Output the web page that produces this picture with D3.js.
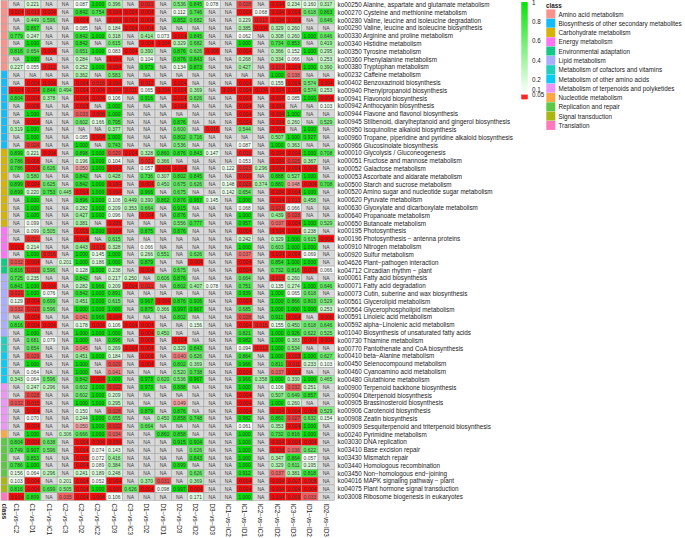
<!DOCTYPE html>
<html><head><meta charset="utf-8">
<script src="https://cdn.jsdelivr.net/npm/d3@7"></script>
<style>body{margin:0;background:#fff}svg{display:block}text{font-family:"Liberation Sans",Arial,sans-serif}</style>
</head><body>
<svg id="c" width="685" height="538"></svg>
<script>
const N = null, R = 0.004;
const columns = ["C1−vs−C2","C1−vs−D1","C1−vs−IC1","C2−vs−C3","C2−vs−D2","C2−vs−IC2","C3−vs−D3","C3−vs−IC3","D1−vs−D2","D1−vs−ID1","D2−vs−D3","D2−vs−ID2","D3−vs−ID3","IC1−vs−IC2","IC1−vs−ID1","IC2−vs−IC3","IC2−vs−ID2","IC3−vs−ID3","ID1−vs−ID2","ID2−vs−ID3"];
const pathways = ["ko00250 Alanine, aspartate and glutamate metabolism","ko00270 Cysteine and methionine metabolism","ko00280 Valine, leucine and isoleucine degradation","ko00290 Valine, leucine and isoleucine biosynthesis","ko00330 Arginine and proline metabolism","ko00340 Histidine metabolism","ko00350 Tyrosine metabolism","ko00360 Phenylalanine metabolism","ko00380 Tryptophan metabolism","ko00232 Caffeine metabolism","ko00402 Benzoxazinoid biosynthesis","ko00940 Phenylpropanoid biosynthesis","ko00941 Flavonoid biosynthesis","ko00942 Anthocyanin biosynthesis","ko00944 Flavone and flavonol biosynthesis","ko00945 Stilbenoid, diarylheptanoid and gingerol biosynthesis","ko00950 Isoquinoline alkaloid biosynthesis","ko00960 Tropane, piperidine and pyridine alkaloid biosynthesis","ko00966 Glucosinolate biosynthesis","ko00010 Glycolysis / Gluconeogenesis","ko00051 Fructose and mannose metabolism","ko00052 Galactose metabolism","ko00053 Ascorbate and aldarate metabolism","ko00500 Starch and sucrose metabolism","ko00520 Amino sugar and nucleotide sugar metabolism","ko00620 Pyruvate metabolism","ko00630 Glyoxylate and dicarboxylate metabolism","ko00640 Propanoate metabolism","ko00650 Butanoate metabolism","ko00195 Photosynthesis","ko00196 Photosynthesis − antenna proteins","ko00910 Nitrogen metabolism","ko00920 Sulfur metabolism","ko04626 Plant−pathogen interaction","ko04712 Circadian rhythm − plant","ko00061 Fatty acid biosynthesis","ko00071 Fatty acid degradation","ko00073 Cutin, suberine and wax biosynthesis","ko00561 Glycerolipid metabolism","ko00564 Glycerophospholipid metabolism","ko00591 Linoleic acid metabolism","ko00592 alpha−Linolenic acid metabolism","ko01040 Biosynthesis of unsaturated fatty acids","ko00730 Thiamine metabolism","ko00770 Pantothenate and CoA biosynthesis","ko00410 beta−Alanine metabolism","ko00450 Selenocompound metabolism","ko00460 Cyanoamino acid metabolism","ko00480 Glutathione metabolism","ko00900 Terpenoid backbone biosynthesis","ko00904 Diterpenoid biosynthesis","ko00905 Brassinosteroid biosynthesis","ko00906 Carotenoid biosynthesis","ko00908 Zeatin biosynthesis","ko00909 Sesquiterpenoid and triterpenoid biosynthesis","ko00240 Pyrimidine metabolism","ko03030 DNA replication","ko03410 Base excision repair","ko03430 Mismatch repair","ko03440 Homologous recombination","ko03450 Non−homologous end−joining","ko04016 MAPK signaling pathway − plant","ko04075 Plant hormone signal transduction","ko03008 Ribosome biogenesis in eukaryotes"];
const classNames = ["Amino acid metabolism","Biosynthesis of other secondary metabolites","Carbohydrate metabolism","Energy metabolism","Environmental adaptation","Lipid metabolism","Metabolism of cofactors and vitamins","Metabolism of other amino acids","Metabolism of terpenoids and polyketides","Nucleotide metabolism","Replication and repair","Signal transduction","Translation"];
const classColors = ["#F8928B","#12BCF8","#D6B202","#FC74F4","#12CA86","#AAAEFF","#20D0BC","#08CBF6","#EC96FA","#FCA843","#5EC845","#AAB712","#FF78BB"];
const classCounts = [9,10,10,4,2,8,2,4,6,1,5,2,1];
const pvalues = [
[N,0.221,N,N,0.087,1,0.396,N,0.021,N,0.536,0.845,0.078,N,0.028,N,R,0.234,0.160,0.317],
[R,0.013,R,N,0.842,0.754,R,R,R,N,0.112,0.746,N,N,R,0.068,R,R,0.618,0.863],
[N,0.449,0.596,N,R,N,R,R,R,N,0.852,0.682,N,N,0.229,0.017,R,R,N,0.646],
[N,0.867,N,N,0.085,N,0.184,R,R,N,N,N,N,N,0.385,R,0.329,0.260,N,N],
[0.779,0.247,N,N,0.842,1,0.318,N,0.414,0.073,R,0.845,N,N,0.062,N,0.308,0.260,1,0.646],
[N,1,N,N,0.842,N,0.615,N,R,R,0.329,0.682,N,N,1,N,0.734,0.853,N,0.419],
[0.816,0.654,R,N,0.651,1,0.083,R,0.390,N,0.876,0.626,0.006,N,R,N,0.366,0.152,1,0.295],
[N,1,N,N,0.284,N,R,N,0.104,N,0.876,0.843,N,N,0.268,N,0.334,0.066,N,0.253],
[0.227,0.055,0.012,N,0.252,1,R,N,0.973,N,0.134,0.873,N,N,0.427,N,0.019,R,1,0.390],
[N,N,N,N,0.362,N,0.583,N,N,N,N,N,N,N,N,N,1,0.038,N,N],
[N,R,R,N,R,0.018,R,N,0.012,N,R,N,N,N,R,N,0.155,R,0.574,R],
[R,R,0.844,0.494,R,R,R,0.011,0.065,R,R,0.369,N,R,R,R,R,R,0.574,0.253],
[0.804,R,0.378,N,R,R,0.106,N,0.916,N,R,0.626,N,N,R,N,R,0.085,1,R],
[N,0.006,N,N,0.005,N,1,N,N,N,R,N,N,N,R,N,R,N,N,0.103],
[N,1,N,N,0.033,0.008,1,N,N,N,N,N,N,N,R,N,R,1,N,N],
[N,R,N,N,0.602,0.166,0.795,N,N,N,0.876,N,N,N,0.004,N,R,0.260,N,0.529],
[0.319,1,N,N,N,N,0.377,N,N,N,0.600,N,0.016,N,0.544,N,R,N,1,N],
[N,1,N,N,0.085,R,1,N,N,N,0.802,0.716,N,N,N,N,0.507,1,0.927,N],
[N,0.024,N,N,1,N,0.743,N,N,N,0.536,N,N,N,0.087,N,1,0.363,N,N],
[0.899,0.221,R,N,0.898,1,0.029,R,0.328,0.860,0.876,0.843,0.147,N,0.016,N,R,R,1,0.708],
[0.786,0.006,N,N,0.196,1,0.104,N,0.021,0.366,N,N,N,N,0.053,N,R,0.025,0.367,N],
[0.786,R,0.626,N,0.050,1,R,N,0.057,R,R,N,N,0.122,0.023,0.296,R,R,R,N],
[N,0.580,N,N,0.842,N,0.428,N,0.736,0.307,0.802,0.845,N,N,0.010,N,0.888,0.527,1,N],
[0.899,R,0.625,N,0.842,1,R,N,R,0.450,0.675,0.626,N,0.148,0.020,0.374,0.880,0.048,R,0.708],
[0.899,0.220,0.753,0.445,R,1,R,N,0.966,N,0.675,N,N,0.142,0.654,N,R,R,1,N],
[N,1,N,N,0.896,1,0.106,0.449,0.390,0.862,0.876,0.967,0.145,N,1,N,R,0.013,0.458,N],
[N,1,N,N,0.282,1,0.209,0.353,0.664,N,0.915,N,N,N,0.068,N,0.023,0.066,N,N],
[N,1,N,N,0.427,1,0.096,N,R,N,0.876,N,N,N,1,N,0.439,0.028,N,N],
[N,0.099,N,N,0.381,N,0.006,N,N,N,0.556,0.777,N,N,0.957,N,0.037,R,1,0.529],
[N,0.099,0.505,N,0.005,1,R,N,0.875,N,0.876,N,N,N,R,N,R,R,0.238,N],
[N,0.021,N,N,R,N,0.615,N,N,N,N,N,N,N,0.242,N,0.329,1,0.615,R],
[0.002,0.214,N,N,0.443,0.016,0.328,N,0.066,N,N,N,N,N,1,N,0.603,1,1,N],
[N,1,0.016,N,1,0.145,1,N,0.266,0.551,N,0.626,N,N,0.037,N,R,R,0.069,N],
[0.032,R,N,0.201,1,0.186,1,N,0.879,N,N,R,N,N,R,N,0.854,1,1,N],
[0.816,0.019,0.596,N,0.128,1,0.238,N,R,N,0.675,N,N,N,R,N,0.732,0.816,R,0.066],
[0.725,0.235,N,N,0.842,N,0.217,0.250,N,0.606,0.876,N,N,N,0.664,N,0.016,0.260,N,N],
[0.841,1,R,N,0.282,0.966,0.209,R,0.021,N,0.802,0.407,0.078,N,0.751,N,0.135,0.274,1,0.646],
[0.021,1,0.076,N,0.842,1,0.891,N,N,N,N,N,N,N,0.939,N,1,0.065,0.618,N],
[0.129,R,0.699,N,0.451,1,0.615,N,0.967,R,0.876,0.906,N,N,R,N,1,0.866,0.803,0.529],
[0.032,0.019,0.596,N,1,1,1,N,0.875,0.366,0.997,0.967,N,N,0.685,N,1,1,1,0.253],
[N,R,N,N,0.041,0.966,R,N,N,N,0.802,N,N,N,0.028,N,0.911,R,N,0.006],
[0.816,R,R,N,0.178,R,0.106,R,R,N,N,0.156,N,N,R,0.016,0.155,0.450,0.618,0.646],
[N,1,N,N,1,1,1,N,R,0.450,N,N,N,N,0.821,N,1,0.926,0.622,0.525],
[N,0.681,0.079,N,1,N,0.896,N,0.006,N,R,N,N,N,0.982,N,1,0.383,R,R],
[N,0.654,N,N,0.045,N,0.269,R,R,N,0.329,0.843,N,N,0.094,0.013,1,0.534,N,N],
[N,0.029,N,N,0.451,1,0.184,N,0.006,N,0.040,0.626,N,N,0.864,N,1,0.008,1,0.627],
[N,1,N,N,1,N,0.029,N,R,N,0.802,0.369,N,N,0.966,N,0.811,0.011,0.233,0.103],
[N,0.064,N,N,1,N,0.041,N,N,N,0.520,0.738,N,N,R,N,0.037,R,N,N],
[0.343,0.064,0.596,N,0.842,R,1,N,0.973,0.620,0.536,0.967,N,N,0.966,0.358,1,0.330,1,0.465],
[N,0.247,0.296,N,0.602,1,0.022,N,0.973,N,0.888,N,N,N,1,N,0.106,0.032,0.251,N],
[N,0.028,N,N,0.602,1,0.209,N,N,N,N,N,N,N,R,N,0.507,0.649,0.857,N],
[0.032,0.015,N,N,1,1,0.295,N,N,N,0.049,N,N,N,R,N,1,0.260,N,N],
[N,R,N,N,0.150,N,0.028,N,0.879,N,0.876,N,N,N,R,N,R,R,R,0.529],
[N,0.070,N,N,0.244,1,0.655,N,N,0.450,0.858,0.748,N,N,0.982,N,0.860,0.027,0.632,0.154],
[N,R,N,N,0.050,1,0.022,N,0.664,N,N,N,N,N,0.061,N,0.353,R,1,N],
[N,1,N,0.306,0.666,1,0.034,N,N,0.860,0.858,N,N,N,1,N,0.732,0.816,1,N],
[0.804,R,0.638,N,R,R,R,N,N,N,0.915,0.904,N,N,1,N,R,R,R,N],
[0.749,0.907,0.596,N,R,0.074,0.143,N,N,N,N,0.626,N,N,1,N,0.008,0.036,0.622,N],
[N,0.853,N,N,0.005,0.072,0.416,N,N,N,N,0.843,N,N,1,N,0.347,0.864,0.057,N],
[0.786,1,N,N,R,0.089,0.384,N,N,N,0.899,N,N,N,1,N,0.329,0.611,0.195,N],
[0.156,0.064,0.296,N,0.241,0.189,0.248,N,N,N,N,0.626,N,N,0.912,N,0.037,0.381,0.818,N],
[0.103,R,N,0.201,R,0.052,R,N,0.370,0.031,N,0.369,N,N,R,N,R,0.007,0.008,N],
[0.816,R,0.699,0.505,R,1,R,0.626,R,0.098,0.997,R,N,N,R,N,R,R,R,N],
[0.004,0.899,N,0.035,R,R,0.106,N,N,N,N,0.171,N,N,1,N,R,0.009,0.033,N]
];
const legendTicks = [1,0.8,0.6,0.4,0.2,0.1,0.05];

// row classes from counts
const rowClass = [];
classCounts.forEach((n,i)=>{for(let k=0;k<n;k++) rowClass.push(classNames[i]);});
const classColor = d3.scaleOrdinal().domain(classNames).range(classColors);

const svg = d3.select("#c");
const x = d3.scaleBand().domain(columns).range([8.3, 334.3]);
const y = d3.scaleBand().domain(pathways).range([0.5, 500.5]);
const redScale = d3.scaleLinear().domain([0,0.02,0.05]).range(["#ff0000","#f21a1a","#f4a6a6"]).clamp(true);
const greenScale = d3.scaleLinear().domain([0.05,1]).range(["#ffffff","#00e000"]).clamp(true);
const fillOf = v => v == null ? "#d9d9d9" : (v <= 0.05 ? redScale(v) : greenScale(v));
const fmt = d3.format(".3f");

const cells = [];
pvalues.forEach((row,i)=>row.forEach((v,j)=>cells.push({r:pathways[i],c:columns[j],v})));

const g = svg.append("g");
g.selectAll("rect.cell").data(cells).join("rect")
  .attr("x",d=>x(d.c)).attr("y",d=>y(d.r))
  .attr("width",x.bandwidth()).attr("height",y.bandwidth())
  .attr("fill",d=>fillOf(d.v)).attr("stroke","#a9a9a9").attr("stroke-width",0.6);
g.selectAll("text.cell").data(cells).join("text")
  .attr("x",d=>x(d.c)+x.bandwidth()/2).attr("y",d=>y(d.r)+y.bandwidth()/2)
  .attr("text-anchor","middle").attr("dominant-baseline","central")
  .attr("font-size",5).attr("fill","#3a3a3a")
  .text(d=>d.v==null?"NA":fmt(d.v));

// class annotation bar
g.selectAll("rect.cls").data(pathways).join("rect")
  .attr("x",1).attr("y",d=>y(d)).attr("width",6.3).attr("height",y.bandwidth())
  .attr("fill",(d,i)=>classColor(rowClass[i])).attr("stroke","#a9a9a9").attr("stroke-width",0.6);

// row labels
g.selectAll("text.row").data(pathways).join("text")
  .attr("x",337.5).attr("y",d=>y(d)+y.bandwidth()/2)
  .attr("dominant-baseline","central").attr("font-size",6.3).attr("fill","#1a1a1a")
  .text(d=>d);

// column labels
g.selectAll("text.col").data(columns).join("text")
  .attr("transform",d=>`translate(${x(d)+x.bandwidth()/2},503.5) rotate(90)`)
  .attr("dominant-baseline","central").attr("font-size",6.3).attr("fill","#1a1a1a")
  .text(d=>d);
g.append("text").attr("transform","translate(4.2,503.5) rotate(90)")
  .attr("dominant-baseline","central").attr("font-size",6.3).attr("font-weight","bold")
  .attr("fill","#1a1a1a").text("class");

// colour legend
const yL = d3.scaleLinear().domain([0,1]).range([99,2]);
const steps = d3.range(0,1,0.0025);
svg.append("g").selectAll("rect").data(steps).join("rect")
  .attr("x",521.5).attr("y",d=>yL(d+0.0025)).attr("width",6)
  .attr("height",d=>yL(d)-yL(d+0.0025)+0.3)
  .attr("fill",d=>d < 0.05 ? "#ff1a1a" : greenScale(d));
svg.append("g").selectAll("text").data(legendTicks).join("text")
  .attr("x",532).attr("y",d=>yL(d)).attr("dominant-baseline","central")
  .attr("font-size",6.3).attr("fill","#1a1a1a").text(d=>d);

// class legend
const lg = svg.append("g");
lg.append("text").attr("x",546).attr("y",5.5).attr("dominant-baseline","central")
  .attr("font-size",6.3).attr("font-weight","bold").attr("fill","#1a1a1a").text("class");
const ly = d3.scaleBand().domain(classNames).range([9.4, 130.2]);
lg.selectAll("rect").data(classNames).join("rect")
  .attr("x",546.3).attr("y",d=>ly(d)).attr("width",9).attr("height",ly.bandwidth()-0.3)
  .attr("fill",d=>classColor(d));
lg.selectAll("text.l").data(classNames).join("text")
  .attr("x",558.5).attr("y",d=>ly(d)+ly.bandwidth()/2).attr("dominant-baseline","central")
  .attr("font-size",6.3).attr("fill","#1a1a1a").text(d=>d);
</script>
</body></html>
